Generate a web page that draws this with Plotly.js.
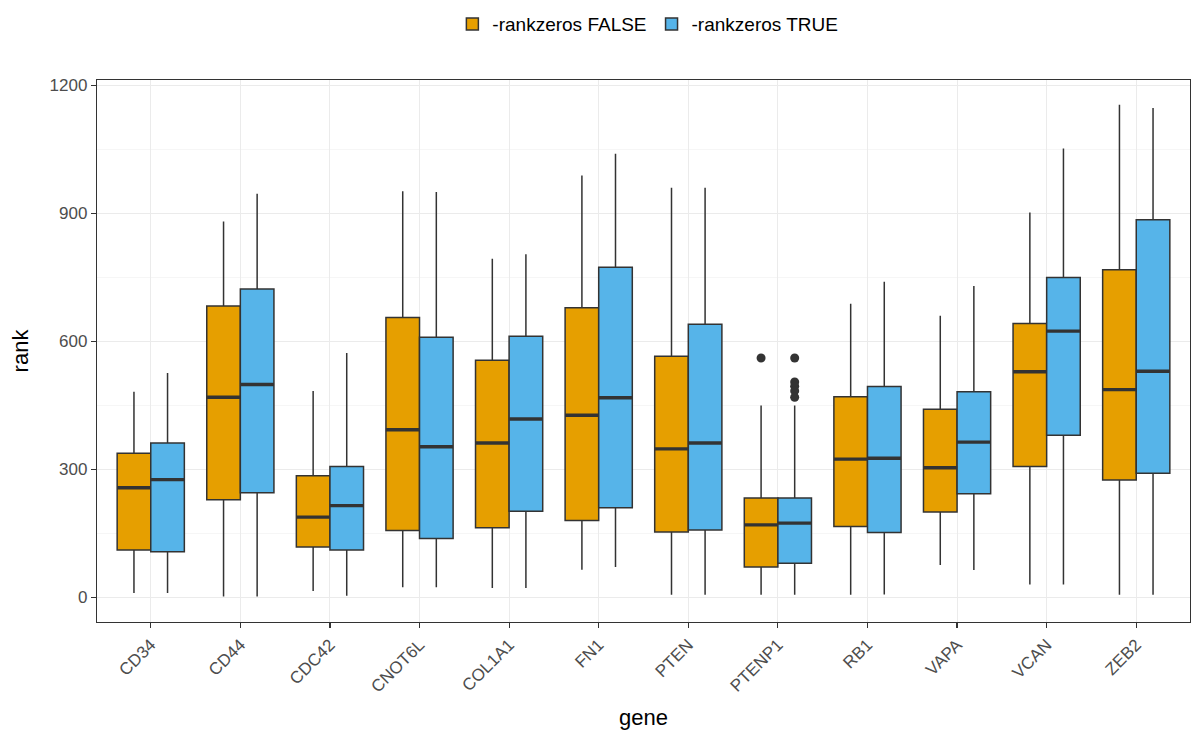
<!DOCTYPE html>
<html>
<head>
<meta charset="utf-8">
<script src="https://cdn.plot.ly/plotly-3.0.1.min.js"></script>
<style>html,body{margin:0;padding:0;background:#fff;}#chart{width:1191px;height:733px;}</style>
</head>
<body>
<div id="chart"></div>
<script>
// ---- data ----
const genes = ["CD34","CD44","CDC42","CNOT6L","COL1A1","FN1","PTEN","PTENP1","RB1","VAPA","VCAN","ZEB2"];

const falseLower  = [10, 2, 15, 24, 22, 65, 6, 6, 6, 76, 30, 6];
const falseQ1     = [111, 229, 118, 157, 163, 180, 153, 71, 166, 200, 307, 275];
const falseMedian = [257, 469, 188, 393, 362, 427, 348, 170, 324, 304, 529, 487];
const falseQ3     = [338, 683, 285, 656, 556, 679, 565, 233, 470, 441, 642, 768];
const falseUpper  = [482, 881, 484, 952, 794, 989, 960, 450, 688, 660, 902, 1155];

const trueLower   = [10, 2, 4, 24, 22, 71, 6, 6, 7, 64, 30, 6];
const trueQ1      = [107, 245, 111, 138, 202, 210, 158, 80, 152, 243, 380, 291];
const trueMedian  = [276, 499, 215, 353, 418, 468, 362, 174, 326, 364, 624, 530];
const trueQ3      = [362, 723, 307, 610, 612, 774, 640, 233, 494, 482, 750, 885];
const trueUpper   = [526, 946, 573, 950, 804, 1040, 960, 450, 740, 730, 1052, 1147];

const falseOutlierGene  = ["PTENP1"];
const falseOutlierValue = [561];
const trueOutlierGene   = ["PTENP1","PTENP1","PTENP1","PTENP1","PTENP1"];
const trueOutlierValue  = [561, 505, 495, 484, 469];

const seriesNames = ["-rankzeros FALSE", "-rankzeros TRUE"];
const yTicks = [0, 300, 600, 900, 1200];

// ---- styling ----
const colFalse = "#E69F00";
const colTrue  = "#56B4E9";
const dark = "#333333";
const halfW = 0.1875;
const idx = g => genes.indexOf(g);

function boxTrace(name, color, off, lo, q1, med, q3, hi) {
  return {
    type: "box", name: name,
    x: genes.map((g, i) => i + off),
    lowerfence: lo, q1: q1, median: med, q3: q3, upperfence: hi,
    width: halfW * 2,
    whiskerwidth: 0,
    fillcolor: color,
    line: {color: dark, width: 1.5},
    boxpoints: false,
    hoverinfo: "y"
  };
}
function medianTrace(off, med) {
  const xs = [], ys = [];
  genes.forEach((g, i) => {
    xs.push(i + off - halfW, i + off + halfW, null);
    ys.push(med[i], med[i], null);
  });
  return {type: "scatter", mode: "lines", x: xs, y: ys, showlegend: false,
          line: {color: dark, width: 3.4}, hoverinfo: "skip"};
}
function outlierTrace(off, gs, vs) {
  return {type: "scatter", mode: "markers", x: gs.map(g => idx(g) + off), y: vs,
          showlegend: false, marker: {color: dark, size: 9}, hoverinfo: "y"};
}

const data = [
  boxTrace(seriesNames[0], colFalse, -halfW, falseLower, falseQ1, falseMedian, falseQ3, falseUpper),
  boxTrace(seriesNames[1], colTrue, halfW, trueLower, trueQ1, trueMedian, trueQ3, trueUpper),
  medianTrace(-halfW, falseMedian),
  medianTrace(halfW, trueMedian),
  outlierTrace(-halfW, falseOutlierGene, falseOutlierValue),
  outlierTrace(halfW, trueOutlierGene, trueOutlierValue)
];

const layout = {
  width: 1191, height: 733,
  margin: {l: 97, r: 1, t: 80, b: 111},
  paper_bgcolor: "#ffffff", plot_bgcolor: "#ffffff",
  font: {family: "Liberation Sans, Arial, sans-serif", color: "#000"},
  boxmode: "overlay",
  showlegend: true,
  legend: {orientation: "h", x: 0.504, xanchor: "center", y: 1.103, yanchor: "middle",
           font: {size: 19, color: "#000"}, itemwidth: 30, tracegroupgap: 0},
  xaxis: {
    range: [-0.6, 11.6],
    tickmode: "array", tickvals: genes.map((g, i) => i), ticktext: genes,
    tickangle: -45,
    tickfont: {size: 17, color: "#4D4D4D"},
    ticks: "outside", ticklen: 5, tickcolor: dark, tickwidth: 1.2,
    showgrid: true, gridcolor: "#EBEBEB", gridwidth: 1,
    zeroline: false,
    showline: true, linecolor: dark, linewidth: 1.2, mirror: true,
    title: {text: "gene", font: {size: 22, color: "#000"}, standoff: 14}
  },
  yaxis: {
    range: [-57.75, 1212.75],
    tickmode: "array", tickvals: yTicks, ticktext: yTicks.map(String),
    tickfont: {size: 17, color: "#4D4D4D"},
    ticks: "outside", ticklen: 5, tickcolor: dark, tickwidth: 1.2,
    showgrid: true, gridcolor: "#EBEBEB", gridwidth: 1,
    minor: {tickmode: "linear", tick0: 150, dtick: 300, showgrid: true, gridcolor: "#F4F4F4", gridwidth: 0.8, ticks: ""},
    zeroline: false,
    showline: true, linecolor: dark, linewidth: 1.2, mirror: true,
    title: {text: "rank", font: {size: 22, color: "#000"}, standoff: 14}
  }
};

Plotly.newPlot("chart", data, layout, {displayModeBar: false, staticPlot: true});
</script>
</body>
</html>
